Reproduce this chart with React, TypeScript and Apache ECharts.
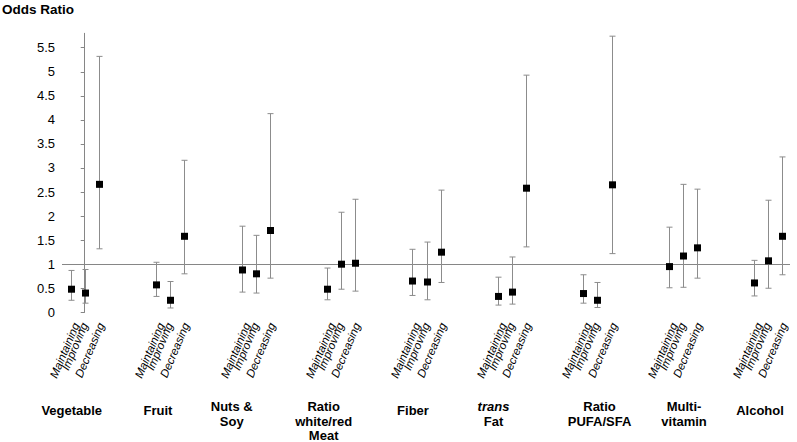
import React, { useEffect, useRef } from "react";
import * as echarts from "echarts";

// ---- data ----
const groupNames = [
  "Vegetable",
  "Fruit",
  "Nuts &\nSoy",
  "Ratio\nwhite/red\nMeat",
  "Fiber",
  "{i|trans}\nFat",
  "Ratio\nPUFA/SFA",
  "Multi-\nvitamin",
  "Alcohol",
];
const trendNames = ["Maintaining", "Improving", "Decreasing"];

const maintainingOR = [0.48, 0.57, 0.88, 0.48, 0.65, 0.33, 0.39, 0.95, 0.61];
const maintainingLow = [0.25, 0.33, 0.42, 0.26, 0.35, 0.15, 0.19, 0.51, 0.34];
const maintainingHigh = [0.87, 1.04, 1.79, 0.92, 1.31, 0.73, 0.78, 1.77, 1.08];

const improvingOR = [0.4, 0.25, 0.8, 1.0, 0.63, 0.42, 0.25, 1.17, 1.07];
const improvingLow = [0.19, 0.09, 0.4, 0.48, 0.26, 0.17, 0.1, 0.52, 0.5];
const improvingHigh = [0.89, 0.64, 1.6, 2.08, 1.46, 1.15, 0.62, 2.66, 2.33];

const decreasingOR = [2.66, 1.58, 1.7, 1.02, 1.25, 2.58, 2.65, 1.34, 1.58];
const decreasingLow = [1.32, 0.8, 0.71, 0.44, 0.62, 1.36, 1.22, 0.71, 0.78];
const decreasingHigh = [5.32, 3.16, 4.13, 2.35, 2.54, 4.93, 5.74, 2.56, 3.23];

const yTickValues = [0, 0.5, 1, 1.5, 2, 2.5, 3, 3.5, 4, 4.5, 5, 5.5];
const referenceOR = 1;

// ---- layout / style (not data) ----
const FONT = "'Liberation Sans', Arial, sans-serif";
const SUB_SPACING = 14.1;
const trendLabelDx = [4.5, -1, 1.5];
const groupLabelDx = [-13, -12.2, -23.9, -17.4, -13.5, -18.5, 2.1, 1.2, -8.3];
const BAR_COLOR = "#8c8c8c";

export default function App() {
  const ref = useRef<HTMLDivElement>(null);

  useEffect(() => {
    if (!ref.current) return;
    const chart = echarts.init(ref.current, null, { renderer: "svg" });

    const ors = [maintainingOR, improvingOR, decreasingOR];
    const lows = [maintainingLow, improvingLow, decreasingLow];
    const highs = [maintainingHigh, improvingHigh, decreasingHigh];
    const rows: number[][] = [];
    for (let g = 0; g < groupNames.length; g++) {
      for (let t = 0; t < 3; t++) {
        rows.push([g, t, ors[t][g], lows[t][g], highs[t][g]]);
      }
    }
    const groupRows = groupNames.map((_, g) => [g, 0]);

    const option: any = {
      animation: false,
      backgroundColor: "#ffffff",
      graphic: [
        {
          type: "text",
          x: 2,
          y: 9,
          style: {
            text: "Odds Ratio",
            font: `bold 13.5px ${FONT}`,
            fill: "#000",
            verticalAlign: "middle",
          },
        },
      ],
      grid: { left: 62, right: 7, top: 33.3, bottom: 129.7, containLabel: false },
      xAxis: {
        type: "value",
        min: -0.266,
        max: 8.254,
        show: false,
      },
      yAxis: {
        type: "value",
        min: 0,
        max: 5.8,
        axisLine: { show: true, lineStyle: { color: "#868686", width: 1 } },
        axisTick: {
          show: true,
          length: 4,
          inside: false,
          customValues: yTickValues,
          lineStyle: { color: "#868686" },
        },
        axisLabel: {
          customValues: yTickValues,
          color: "#000",
          fontSize: 13,
          fontFamily: FONT,
          margin: 7,
        },
        splitLine: { show: false },
      },
      series: [
        {
          type: "line",
          data: [],
          z: 1,
          silent: true,
          markLine: {
            silent: true,
            symbol: "none",
            label: { show: false },
            lineStyle: { color: "#868686", width: 1, type: "solid" },
            data: [{ yAxis: referenceOR }],
          },
        },
        {
          type: "custom",
          z: 5,
          silent: true,
          data: rows,
          encode: { x: 0, y: 2 },
          renderItem: (params: any, api: any) => {
            const g = api.value(0);
            const t = api.value(1);
            const base = api.coord([g, 0]);
            const x = Math.round(base[0] + (t - 1) * SUB_SPACING) + 0.5;
            const yMid = api.coord([g, api.value(2)])[1];
            const yLow = api.coord([g, api.value(3)])[1];
            const yHigh = api.coord([g, api.value(4)])[1];
            const y0 = base[1];
            const capW = 3;
            const ls = { stroke: BAR_COLOR, lineWidth: 1 };
            const m = 3.5;
            return {
              type: "group",
              children: [
                { type: "line", shape: { x1: x, y1: yLow, x2: x, y2: yHigh }, style: ls },
                { type: "line", shape: { x1: x - capW, y1: yLow, x2: x + capW, y2: yLow }, style: ls },
                { type: "line", shape: { x1: x - capW, y1: yHigh, x2: x + capW, y2: yHigh }, style: ls },
                {
                  type: "rect",
                  shape: { x: x - m, y: yMid - m, width: 2 * m, height: 2 * m },
                  style: { fill: "#000" },
                },
                {
                  type: "text",
                  x: x + trendLabelDx[t],
                  y: y0 + 11,
                  rotation: (67 * Math.PI) / 180,
                  style: {
                    text: trendNames[t],
                    font: `italic 11.5px ${FONT}`,
                    fill: "#000",
                    align: "right",
                    verticalAlign: "middle",
                  },
                },
              ],
            };
          },
        },
        {
          type: "custom",
          z: 5,
          silent: true,
          data: groupRows,
          encode: { x: 0, y: 1 },
          renderItem: (params: any, api: any) => {
            const g = api.value(0);
            const base = api.coord([g, 0]);
            const name = groupNames[g];
            const single = name.indexOf("\n") < 0;
            return {
              type: "text",
              x: base[0] + groupLabelDx[g],
              y: base[1] + 87 + (single ? 4 : 0),
              style: {
                text: name,
                font: `bold 13px ${FONT}`,
                fill: "#000",
                align: "center",
                verticalAlign: "top",
                lineHeight: 14.5,
                rich: {
                  i: {
                    fontStyle: "italic",
                    fontWeight: "bold",
                    fontSize: 13,
                    fontFamily: FONT,
                    lineHeight: 14.5,
                    fill: "#000",
                  },
                },
              },
            };
          },
        },
      ],
    };

    chart.setOption(option);
    return () => chart.dispose();
  }, []);

  return (
    <div
      ref={ref}
      style={{ position: "fixed", left: 0, top: 0, width: 797, height: 442, background: "#fff" }}
    />
  );
}
